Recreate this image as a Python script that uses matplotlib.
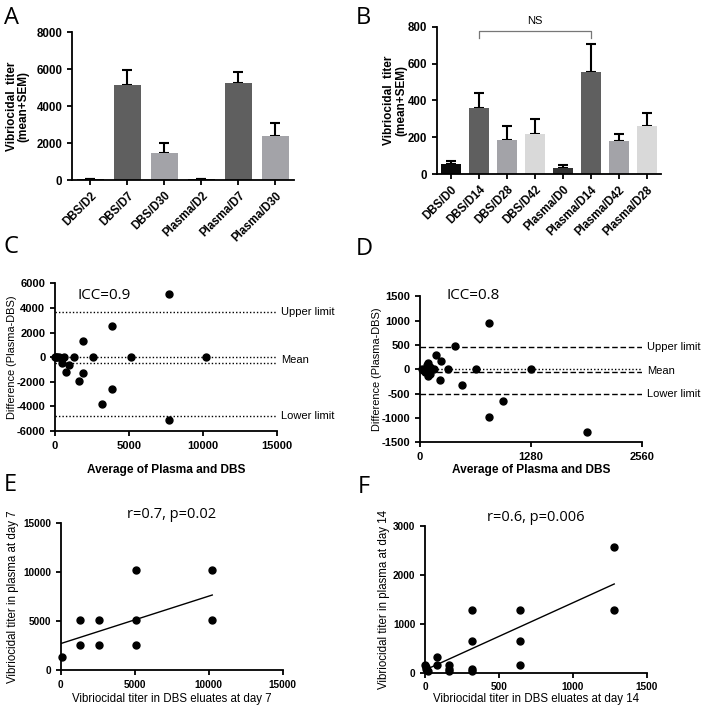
import numpy as np
import matplotlib
matplotlib.use('Agg')
import matplotlib.pyplot as plt

plt.rcParams['font.family'] = ['Liberation Sans', 'DejaVu Sans']
plt.rcParams['axes.unicode_minus'] = False
plt.rcParams['axes.linewidth'] = 1.3
plt.rcParams['xtick.major.width'] = 1.3
plt.rcParams['ytick.major.width'] = 1.3
plt.rcParams['xtick.major.size'] = 3.5
plt.rcParams['ytick.major.size'] = 3.5

# panel A
a_labels = ['DBS/D2', 'DBS/D7', 'DBS/D30', 'Plasma/D2', 'Plasma/D7', 'Plasma/D30']
a_mean = [40, 5150, 1480, 40, 5240, 2370]
a_sem = [20, 810, 540, 30, 630, 700]
a_colors = ['#111111', '#5f5f5f', '#a3a3a8', '#111111', '#5f5f5f', '#a3a3a8']

# panel B
b_labels = ['DBS/D0', 'DBS/D14', 'DBS/D28', 'DBS/D42', 'Plasma/D0', 'Plasma/D14', 'Plasma/D42', 'Plasma/D28']
b_mean = [54, 357, 183, 219, 34, 554, 181, 259]
b_sem = [16, 85, 79, 78, 15, 150, 36, 74]
b_colors = ['#0a0a0a', '#5f5f5f', '#a3a3a8', '#d9d9d9', '#333333', '#5f5f5f', '#a3a3a8', '#d9d9d9']

# panel C (Bland-Altman, day 7)
c_avg = [0, 80, 160, 240, 450, 640, 1280, 2560, 5120, 10240, 960, 720, 1920, 1600, 3840, 3200, 7680, 1920, 3840, 7680]
c_diff = [0, 0, 0, 0, -450, 0, 0, 0, 0, 0, -640, -1220, -1300, -1920, -2560, -3840, -5120, 1280, 2560, 5120]
c_upper, c_mean, c_lower = 3640, -460, -4750

# panel D (Bland-Altman, day 14)
d_avg = [20, 40, 60, 80, 96, 96, 110, 120, 160, 190, 240, 230, 320, 400, 480, 640, 800, 960, 800, 1280, 1920]
d_diff = [0, -20, -50, 80, 120, -140, -100, 40, 0, 290, 170, -220, 0, 470, -330, 0, 960, -650, -970, 0, -1290]
d_upper, d_mean, d_lower = 455, -62, -515

# panel E (day 7 correlation)
e_dbs = [80, 1280, 1280, 2560, 2560, 5120, 5120, 5120, 10240, 10240]
e_plasma = [1280, 2560, 5120, 5120, 2560, 10240, 5120, 2560, 10240, 5120]
e_fit = (0.485, 2700)  # slope, intercept

# panel F (day 14 correlation)
f_dbs = [0, 10, 20, 10, 80, 80, 160, 160, 160, 320, 320, 320, 320, 640, 640, 640, 1280, 1280]
f_plasma = [160, 110, 40, 80, 320, 160, 160, 80, 40, 1280, 640, 80, 40, 1280, 640, 160, 2560, 1280]
f_fit = (1.374, 55)

fig = plt.figure(figsize=(7.01, 7.06), dpi=100)


def style(ax, size=8):
    ax.spines['top'].set_visible(False)
    ax.spines['right'].set_visible(False)
    for lab in ax.get_xticklabels() + ax.get_yticklabels():
        lab.set_fontweight('bold')
        lab.set_fontsize(size)


def bars(ax, labels, mean, sem, colors, top, step, ylab_x):
    x = np.arange(len(labels))
    ax.bar(x, mean, width=0.72, color=colors, zorder=2)
    ax.errorbar(x, mean, yerr=[np.zeros(len(sem)), sem], fmt='none', ecolor='black',
                elinewidth=1.5, capsize=3.5, capthick=1.5, zorder=1)
    ax.set_xlim(-0.5, len(labels) - 0.5)
    ax.set_ylim(0, top)
    ax.set_yticks(np.arange(0, top + 1, step))
    ax.set_xticks(x)
    ax.set_xticklabels(labels, rotation=45, ha='right', rotation_mode='anchor')
    ax.set_ylabel('Vibriocidal  titer\n(mean+SEM)', fontsize=8.5, fontweight='bold', linespacing=1.0)
    ax.yaxis.set_label_coords(ylab_x, 0.5)
    style(ax, 8.3)


axA = fig.add_axes([0.1027, 0.745, 0.3167, 0.2092])
bars(axA, a_labels, a_mean, a_sem, a_colors, 8000, 2000, -0.19)

axB = fig.add_axes([0.6234, 0.7535, 0.319, 0.2086])
bars(axB, b_labels, b_mean, b_sem, b_colors, 800, 200, -0.134)
axB.plot([1, 1, 5, 5], [740, 778, 778, 740], color='#777777', lw=0.9, clip_on=False)
axB.text(3, 805, 'NS', ha='center', va='bottom', fontsize=8)


def bland(ax, avg, diff, upper, mean, lower, xmax, xticks, ylim, yticks, ls_limits, txt, txt_x, txt_y,
          lab_y, ylab_x):
    ax.plot(avg, diff, 'o', color='black', ms=5, clip_on=False, zorder=3)
    ax.axhline(0, color='black', lw=1.0, ls=(0, (1, 1.5)))
    ax.axhline(mean, color='black', lw=1.0, ls=ls_limits)
    ax.axhline(upper, color='black', lw=1.0, ls=ls_limits)
    ax.axhline(lower, color='black', lw=1.0, ls=ls_limits)
    ax.set_xlim(0, xmax)
    ax.set_xticks(xticks)
    ax.set_ylim(*ylim)
    ax.set_yticks(yticks)
    for y, s in [(upper, 'Upper limit'), (mean / 2, 'Mean'), (lower, 'Lower limit')]:
        ax.text(xmax * 1.02, y, s, va='center', ha='left', fontsize=8, clip_on=False)
    ax.set_xlabel('Average of Plasma and DBS', fontsize=8.6, fontweight='bold')
    ax.xaxis.set_label_coords(0.5, lab_y)
    ax.set_ylabel('Difference (Plasma-DBS)', fontsize=7.9)
    ax.yaxis.set_label_coords(ylab_x, 0.5)
    ax.text(txt_x, txt_y, txt, fontsize=11, family=['Open Sans', 'DejaVu Sans'], va='center')
    style(ax, 8)


axC = fig.add_axes([0.0785, 0.3895, 0.3163, 0.2092])
bland(axC, c_avg, c_diff, c_upper, c_mean, c_lower, 15000, [0, 5000, 10000, 15000],
      (-6000, 6000), np.arange(-6000, 6001, 2000), (0, (1, 1.5)), 'ICC=0.9', 1500, 5000, -0.225, -0.172)

axD = fig.add_axes([0.5991, 0.3735, 0.3171, 0.2068])
bland(axD, d_avg, d_diff, d_upper, d_mean, d_lower, 2560, [0, 1280, 2560],
      (-1500, 1500), np.arange(-1500, 1501, 500), (0, (4, 2)), 'ICC=0.8', 310, 1520, -0.15, -0.17)


def corr(ax, xs, ys, fit, xmax, xticks, ymax, yticks, day, txt, lab_y, ylab_x):
    ax.plot(xs, ys, 'o', color='black', ms=5, clip_on=False, zorder=3)
    xx = np.array([0, max(xs)])
    ax.plot(xx, fit[0] * xx + fit[1], color='black', lw=1.0)
    ax.set_xlim(0, xmax)
    ax.set_xticks(xticks)
    ax.set_ylim(0, ymax)
    ax.set_yticks(yticks)
    ax.set_xlabel('Vibriocidal titer in DBS eluates at day %d' % day, fontsize=8.3)
    ax.xaxis.set_label_coords(0.5, lab_y)
    ax.set_ylabel('Vibriocidal titer in plasma at day %d' % day, fontsize=8.3)
    ax.yaxis.set_label_coords(ylab_x, 0.5)
    ax.text(0.5, 1.06, txt, transform=ax.transAxes, ha='center', va='center', fontsize=10.5,
            family=['Open Sans', 'DejaVu Sans'])
    style(ax, 7.2)


axE = fig.add_axes([0.0866, 0.051, 0.3167, 0.2078])
corr(axE, e_dbs, e_plasma, e_fit, 15000, [0, 5000, 10000, 15000], 15000, [0, 5000, 10000, 15000], 7,
     'r=0.7, p=0.02', -0.155, -0.19)

axF = fig.add_axes([0.6063, 0.0472, 0.3163, 0.2078])
corr(axF, f_dbs, f_plasma, f_fit, 1500, [0, 500, 1000, 1500], 3000, [0, 1000, 2000, 3000], 14,
     'r=0.6, p=0.006', -0.14, -0.158)

for s, x, y in [('A', 0.005, 0.975), ('B', 0.508, 0.975), ('C', 0.005, 0.65), ('D', 0.507, 0.648),
                ('E', 0.005, 0.313), ('F', 0.51, 0.31)]:
    fig.text(x, y, s, fontsize=17, family=['Open Sans', 'DejaVu Sans'], va='center')

fig.savefig('out.png', dpi=100, facecolor='white')
